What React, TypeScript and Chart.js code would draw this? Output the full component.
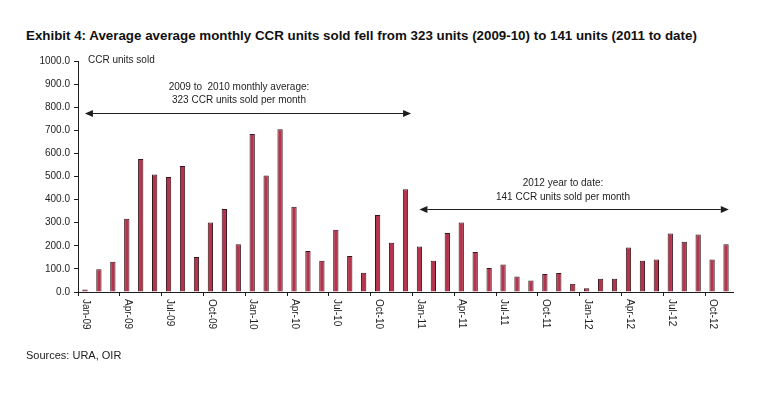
import React, { useEffect, useRef } from "react";
import { Chart, registerables } from "chart.js";

Chart.register(...registerables);

const categories = [
  "Jan-09", "Feb-09", "Mar-09", "Apr-09", "May-09", "Jun-09", "Jul-09", "Aug-09", "Sep-09", "Oct-09", "Nov-09", "Dec-09",
  "Jan-10", "Feb-10", "Mar-10", "Apr-10", "May-10", "Jun-10", "Jul-10", "Aug-10", "Sep-10", "Oct-10", "Nov-10", "Dec-10",
  "Jan-11", "Feb-11", "Mar-11", "Apr-11", "May-11", "Jun-11", "Jul-11", "Aug-11", "Sep-11", "Oct-11", "Nov-11", "Dec-11",
  "Jan-12", "Feb-12", "Mar-12", "Apr-12", "May-12", "Jun-12", "Jul-12", "Aug-12", "Sep-12", "Oct-12", "Nov-12",
];

const units2009 = [11, 99, 131, 317, 576, 509, 498, 545, 151, 301, 359, 207];
const units2010 = [684, 504, 705, 369, 177, 135, 269, 156, 83, 333, 213, 445];
const units2011 = [197, 135, 255, 301, 173, 104, 119, 67, 50, 78, 82, 36];
const units2012 = [16, 57, 57, 193, 135, 141, 253, 217, 249, 141, 207];

const ccrUnitsSold = [...units2009, ...units2010, ...units2011, ...units2012];

const yTicks = [0, 100, 200, 300, 400, 500, 600, 700, 800, 900, 1000];

const titleText =
  "Exhibit 4: Average average monthly CCR units sold fell from 323 units (2009-10) to 141 units (2011 to date)";
const sourceText = "Sources: URA, OIR";
const axisTitle = "CCR units sold";

// annotations: arrow spans in category-index units, y in data units
const annotations = [
  {
    lines: ["2009 to  2010 monthly average:", "323 CCR units sold per month"],
    textX: 11.05,
    textY: [885, 831],
    fromX: 0,
    toX: 23.4,
    arrowY: 776,
  },
  {
    lines: ["2012 year to date:", "141 CCR units sold per month"],
    textX: 34.3,
    textY: [471, 411],
    fromX: 24,
    toX: 46.2,
    arrowY: 359,
  },
];

const FONT = "'Liberation Sans', Arial, Helvetica, sans-serif";
const INK = "#1e1e1e";

const overlayPlugin = {
  id: "overlay",
  afterDraw(chart: any) {
    const { ctx, scales } = chart;
    const xs = scales.x;
    const ys = scales.y;
    const xAt = (v: number) => {
      const i = Math.floor(v);
      const f = v - i;
      const a = xs.getPixelForValue(i);
      const b = xs.getPixelForValue(i + 1);
      return a + (b - a) * f;
    };
    ctx.save();
    // axis title
    ctx.fillStyle = INK;
    ctx.font = `10px ${FONT}`;
    ctx.textAlign = "left";
    ctx.textBaseline = "middle";
    ctx.fillText(axisTitle, chart.chartArea.left + 10, ys.getPixelForValue(1000) - 1);

    // rotated x labels
    ctx.font = `10px ${FONT}`;
    categories.forEach((lab, i) => {
      if (i % 3 !== 0) return;
      const x = xs.getPixelForValue(i);
      const y = xs.top + 7;
      ctx.save();
      ctx.translate(x + 1, y);
      ctx.rotate(Math.PI / 2);
      ctx.textAlign = "left";
      ctx.textBaseline = "middle";
      ctx.fillText(lab, 0, 0);
      ctx.restore();
    });

    // annotations
    annotations.forEach((a) => {
      ctx.fillStyle = INK;
      ctx.strokeStyle = INK;
      ctx.font = `10px ${FONT}`;
      ctx.textAlign = "center";
      ctx.textBaseline = "middle";
      a.lines.forEach((l, k) => {
        ctx.fillText(l, xAt(a.textX), ys.getPixelForValue(a.textY[k]));
      });
      const x1 = xAt(a.fromX);
      const x2 = xAt(a.toX);
      const y = Math.round(ys.getPixelForValue(a.arrowY)) + 0.5;
      const L = 8;
      const H = 3.5;
      ctx.lineWidth = 1;
      ctx.beginPath();
      ctx.moveTo(x1 + L, y);
      ctx.lineTo(x2 - L, y);
      ctx.stroke();
      ctx.beginPath();
      ctx.moveTo(x1, y);
      ctx.lineTo(x1 + L, y - H);
      ctx.lineTo(x1 + L, y + H);
      ctx.closePath();
      ctx.fill();
      ctx.beginPath();
      ctx.moveTo(x2, y);
      ctx.lineTo(x2 - L, y - H);
      ctx.lineTo(x2 - L, y + H);
      ctx.closePath();
      ctx.fill();
    });
    ctx.restore();
  },
};

export default function App() {
  const ref = useRef<HTMLCanvasElement | null>(null);

  useEffect(() => {
    if (!ref.current) return;
    const chart = new Chart(ref.current, {
      type: "bar",
      data: {
        labels: categories,
        datasets: [
          {
            label: axisTitle,
            data: ccrUnitsSold,
            backgroundColor: "#b3344c",
            borderColor: "#3a141c",
            borderWidth: 1,
            barPercentage: 0.38,
            categoryPercentage: 1,
          },
        ],
      },
      options: {
        animation: false,
        responsive: false,
        maintainAspectRatio: false,
        layout: { padding: { top: 61, right: 49, left: 0, bottom: 0 } },
        plugins: {
          legend: { display: false },
          tooltip: { enabled: false },
          title: { display: false },
        },
        scales: {
          x: {
            type: "category",
            offset: true,
            afterFit: (s: any) => {
              s.height = 105;
            },
            grid: {
              display: true,
              offset: true,
              drawOnChartArea: false,
              drawTicks: true,
              tickLength: 4,
              color: (c: any) => (c.index % 3 === 0 ? INK : "rgba(0,0,0,0)"),
            },
            border: { display: true, color: INK, width: 1 },
            ticks: {
              autoSkip: false,
              maxRotation: 0,
              callback: () => "",
            },
          },
          y: {
            min: 0,
            max: 1000,
            afterFit: (s: any) => {
              s.width = 78;
            },
            afterBuildTicks: (s: any) => {
              s.ticks = yTicks.map((v) => ({ value: v }));
            },
            grid: {
              display: true,
              drawOnChartArea: false,
              drawTicks: true,
              tickLength: 4,
              color: INK,
            },
            border: { display: true, color: INK, width: 1 },
            ticks: {
              padding: 4,
              color: INK,
              font: { family: FONT, size: 10 },
              callback: (v: any) => Number(v).toFixed(1),
            },
          },
        },
      },
      plugins: [overlayPlugin],
    });
    return () => chart.destroy();
  }, []);

  return (
    <div style={{ position: "fixed", left: 0, top: 0, width: 782, height: 397, background: "#fff" }}>
      <div
        style={{
          position: "absolute",
          left: 26,
          top: 28,
          fontFamily: FONT,
          fontWeight: "bold",
          fontSize: 13.35,
          lineHeight: "16px",
          color: "#111",
          whiteSpace: "nowrap",
        }}
      >
        {titleText}
      </div>
      <canvas ref={ref} width={782} height={397} style={{ position: "absolute", left: 0, top: 0 }} />
      <div
        style={{
          position: "absolute",
          left: 26,
          top: 348,
          fontFamily: FONT,
          fontSize: 11,
          lineHeight: "14px",
          color: "#222",
          whiteSpace: "nowrap",
        }}
      >
        {sourceText}
      </div>
    </div>
  );
}
